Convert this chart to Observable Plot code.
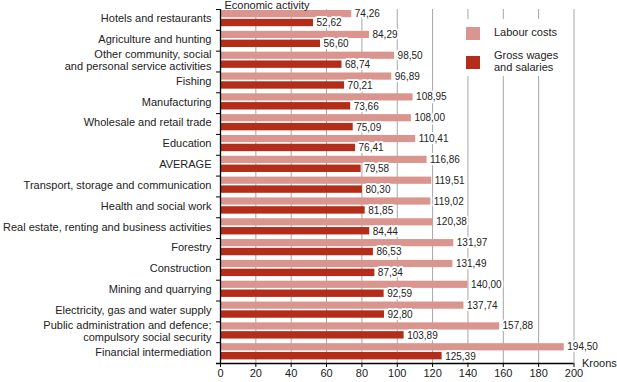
<!DOCTYPE html>
<html>
<head>
<meta charset="utf-8">
<script src="https://cdn.jsdelivr.net/npm/d3@7"></script>
<script src="https://cdn.jsdelivr.net/npm/@observablehq/plot@0.6"></script>
<style>
  html, body { margin: 0; padding: 0; background: #fff; }
  #wrap { position: relative; width: 617px; height: 382px; font-family: "Liberation Sans", Arial, sans-serif; }
  #legend { position: absolute; left: 458px; top: 19px; width: 108px; height: 57px; background: #fff; font-size: 11px; color: #222; }
  .sw { position: absolute; left: 8px; width: 14px; height: 13px; }
  .lt { position: absolute; left: 36px; line-height: 11.5px; }
</style>
</head>
<body>
<div id="wrap">
  <div id="chart"></div>
  <div id="legend">
    <div class="sw" style="top:8px;background:#da968e"></div>
    <div class="lt" style="top:8px">Labour costs</div>
    <div class="sw" style="top:37px;background:#b32d18"></div>
    <div class="lt" style="top:31px">Gross wages<br>and salaries</div>
  </div>
</div>
<script>
const categories = [
  "Hotels and restaurants",
  "Agriculture and hunting",
  "Other community, social\nand personal service activities",
  "Fishing",
  "Manufacturing",
  "Wholesale and retail trade",
  "Education",
  "AVERAGE",
  "Transport, storage and communication",
  "Health and social work",
  "Real estate, renting and business activities",
  "Forestry",
  "Construction",
  "Mining and quarrying",
  "Electricity, gas and water supply",
  "Public administration and defence;\ncompulsory social security",
  "Financial intermediation"
];
const labourCosts = [74.26, 84.29, 98.50, 96.89, 108.95, 108.00, 110.41, 116.86, 119.51, 119.02, 120.38, 131.97, 131.49, 140.00, 137.74, 157.88, 194.50];
const grossWages = [52.62, 56.60, 68.74, 70.21, 73.66, 75.09, 76.41, 79.58, 80.30, 81.85, 84.44, 86.53, 87.34, 92.59, 92.80, 103.89, 125.39];
const xTicks = [0, 20, 40, 60, 80, 100, 120, 140, 160, 180, 200];
const seriesNames = ["Labour costs", "Gross wages and salaries"];

const lightColor = "#da968e";
const darkColor = "#b32d18";

const rows = categories.map((c, i) => ({cat: c, labour: labourCosts[i], wages: grossWages[i]}));
const fmt = v => v.toFixed(2).replace(".", ",");

const W = 617, H = 382, MT = 9, MB = 19;
const step = (H - MT - MB) / categories.length;

const chart = Plot.plot({
  width: W,
  height: H,
  marginTop: MT,
  marginBottom: MB,
  marginLeft: 220,
  marginRight: 43.5,
  style: {fontFamily: "'Liberation Sans', Arial, sans-serif", fontSize: "11px", background: "#fff", color: "#222"},
  x: {domain: [0, 200], axis: null, label: null},
  y: {domain: categories, padding: 0, round: false, axis: null, label: null},
  marks: [
    Plot.ruleX(xTicks.slice(1), {stroke: "#a6a6a6", strokeWidth: 1}),
    Plot.barX(rows, {x: "labour", y: "cat", fill: lightColor, insetTop: 1, insetBottom: step - 8.2}),
    Plot.barX(rows, {x: "wages", y: "cat", fill: darkColor, insetTop: 9.8, insetBottom: step - 17.2}),
    Plot.text(rows, {x: "labour", y: "cat", text: d => fmt(d.labour), textAnchor: "start", dx: 3, dy: -6, fontSize: 10, fill: "#222", stroke: "#fff", strokeWidth: 4, paintOrder: "stroke"}),
    Plot.text(rows, {x: "wages", y: "cat", text: d => fmt(d.wages), textAnchor: "start", dx: 3, dy: 3.3, fontSize: 10, fill: "#222", stroke: "#fff", strokeWidth: 4, paintOrder: "stroke"}),
    Plot.text(rows, {y: "cat", text: "cat", frameAnchor: "left", textAnchor: "end", dx: -9, dy: -1.5, lineHeight: 1.12, fontSize: 11, fill: "#222"}),
    Plot.axisY({tickSize: 4, tickFormat: () => "", dy: -step / 2, stroke: "#000", label: null}),
    Plot.axisY([categories[categories.length - 1]], {tickSize: 4, tickFormat: () => "", dy: step / 2, stroke: "#000", label: null}),
    Plot.ruleX([0], {stroke: "#000", strokeWidth: 1.3}),
    Plot.ruleY([categories[categories.length - 1]], {dy: step / 2, stroke: "#000", strokeWidth: 1.3, insetLeft: -4}),
    Plot.axisX({ticks: xTicks, tickSize: 4, tickPadding: 2, stroke: "#000", fontSize: 11, fill: "#222", label: null}),
    Plot.text(["Economic activity"], {frameAnchor: "top-left", textAnchor: "start", lineAnchor: "bottom", dx: 4, dy: -0.5, fontSize: 11, fill: "#222"}),
    Plot.text(["Kroons"], {frameAnchor: "bottom-right", textAnchor: "start", lineAnchor: "middle", dx: 8, fontSize: 11, fill: "#222"})
  ]
});
document.getElementById("chart").appendChild(chart);
</script>
</body>
</html>
